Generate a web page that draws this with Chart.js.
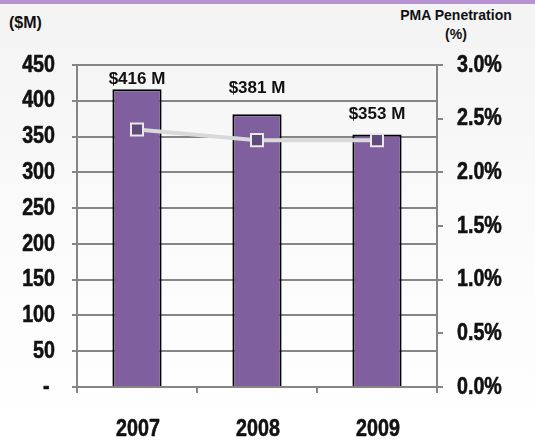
<!DOCTYPE html>
<html>
<head>
<meta charset="utf-8">
<script src="https://cdn.jsdelivr.net/npm/chart.js@4/dist/chart.umd.min.js"></script>
<style>
  html, body { margin: 0; padding: 0; }
  body {
    width: 535px; height: 441px; overflow: hidden; position: relative;
    background: linear-gradient(to bottom, #f3f3f3 0%, #fbfbfb 55%, #ffffff 100%);
    font-family: "Liberation Sans", Arial, sans-serif;
  }
  .band { position: absolute; left: 0; top: 0; width: 535px; height: 4px; background: #b893d3; }
  .unit-left { position: absolute; left: 9px; top: 13px; font-weight: bold; font-size: 16px; line-height: 20px; color: #111; }
  .unit-right { position: absolute; left: 395px; width: 122px; top: 6px; text-align: center; font-weight: bold; font-size: 14px; line-height: 19px; color: #111; }
  canvas { position: absolute; left: 0; top: 0; }
</style>
</head>
<body>
<div class="band"></div>
<div class="unit-left">($M)</div>
<div class="unit-right">PMA Penetration<br>(%)</div>
<canvas id="chart" width="535" height="441"></canvas>
<script>
// Annual revenue ($M) and PMA penetration (%) by year
const years = ['2007', '2008', '2009'];
const revenue = [416, 381, 353];
const penetration = [2.4, 2.3, 2.3];
const revenueLabels = ['$416 M', '$381 M', '$353 M'];

const axisGray = '#858585';

// Narrow bold tick labels: Liberation Sans Bold squeezed horizontally,
// placed at the positions the scales give for each tick.
const narrowTicks = {
  id: 'narrowTicks',
  afterDraw(chart, args, opts) {
    const { ctx } = chart;
    const squeeze = opts.squeeze;
    ctx.save();
    ctx.font = "bold " + opts.size + "px 'Liberation Sans', Arial, sans-serif";
    ctx.fillStyle = '#111';
    ctx.strokeStyle = '#111';
    ctx.lineWidth = 0.6;
    ctx.lineJoin = 'round';
    ctx.textBaseline = 'middle';
    const drawText = (text, x, y, align) => {
      ctx.save();
      ctx.translate(x, y);
      ctx.scale(squeeze, 1);
      ctx.textAlign = align;
      ctx.fillText(text, 0, 0);
      ctx.strokeText(text, 0, 0);
      ctx.restore();
    };
    const y = chart.scales.y;
    y.ticks.forEach((t, i) => {
      drawText(opts.leftFormat(t.value), y.right - opts.leftGap, y.getPixelForTick(i), 'right');
    });
    const y1 = chart.scales.y1;
    y1.ticks.forEach((t, i) => {
      drawText(opts.rightFormat(t.value), y1.left + opts.rightGap, y1.getPixelForTick(i), 'left');
    });
    const x = chart.scales.x;
    x.ticks.forEach((t, i) => {
      drawText(x.getLabelForValue(t.value), x.getPixelForTick(i) + 1, x.top + opts.bottomGap, 'center');
    });
    ctx.restore();
  }
};

// Value labels above each bar
const barLabels = {
  id: 'barLabels',
  afterDatasetsDraw(chart, args, opts) {
    const { ctx } = chart;
    const meta = chart.getDatasetMeta(1);
    ctx.save();
    ctx.font = "bold 17px 'Liberation Sans', Arial, sans-serif";
    ctx.fillStyle = '#111';
    ctx.textAlign = 'center';
    ctx.textBaseline = 'middle';
    meta.data.forEach((bar, i) => {
      ctx.fillText(revenueLabels[i], bar.x, bar.y - opts.lift[i]);
    });
    ctx.restore();
  }
};

new Chart(document.getElementById('chart'), {
  data: {
    labels: years,
    datasets: [
      {
        type: 'line',
        data: penetration,
        yAxisID: 'y1',
        order: 0,
        borderColor: '#d9d9d9',
        borderWidth: 4,
        pointStyle: 'rect',
        pointRadius: 8.5,
        pointBackgroundColor: '#5f4a7b',
        pointBorderColor: '#e8e8e8',
        pointBorderWidth: 2,
        tension: 0
      },
      {
        type: 'bar',
        data: revenue,
        yAxisID: 'y',
        order: 1,
        backgroundColor: '#7f5f9e',
        borderColor: '#000000',
        borderWidth: 2,
        categoryPercentage: 1,
        barPercentage: 0.41
      }
    ]
  },
  options: {
    responsive: false,
    animation: false,
    layout: { padding: { top: 65, left: 0, right: 0, bottom: 0 } },
    plugins: {
      legend: { display: false },
      tooltip: { enabled: false },
      barLabels: { lift: [10.5, 26, 20.5] },
      narrowTicks: {
        size: 24,
        squeeze: 0.82,
        leftGap: 22,
        rightGap: 20,
        bottomGap: 42,
        leftFormat: (v) => (v === 0 ? '- ' : String(v)),
        rightFormat: (v) => v.toFixed(1) + '%'
      }
    },
    scales: {
      x: {
        offset: true,
        afterFit(scale) { scale.height = 54; },
        grid: { offset: true, drawOnChartArea: false, drawTicks: true, tickLength: 6, color: axisGray, lineWidth: 2 },
        border: { color: axisGray, width: 2 },
        ticks: { display: false }
      },
      y: {
        position: 'left',
        min: 0, max: 450,
        afterFit(scale) { scale.width = 77; },
        grid: { color: axisGray, lineWidth: 2, tickLength: 5 },
        border: { color: axisGray, width: 2 },
        ticks: { stepSize: 50, display: false }
      },
      y1: {
        position: 'right',
        min: 0, max: 3,
        afterFit(scale) { scale.width = 98; },
        grid: { drawOnChartArea: false, color: axisGray, lineWidth: 2, tickLength: 6 },
        border: { color: axisGray, width: 2 },
        ticks: { stepSize: 0.5, display: false }
      }
    }
  },
  plugins: [barLabels, narrowTicks]
});
</script>
</body>
</html>
